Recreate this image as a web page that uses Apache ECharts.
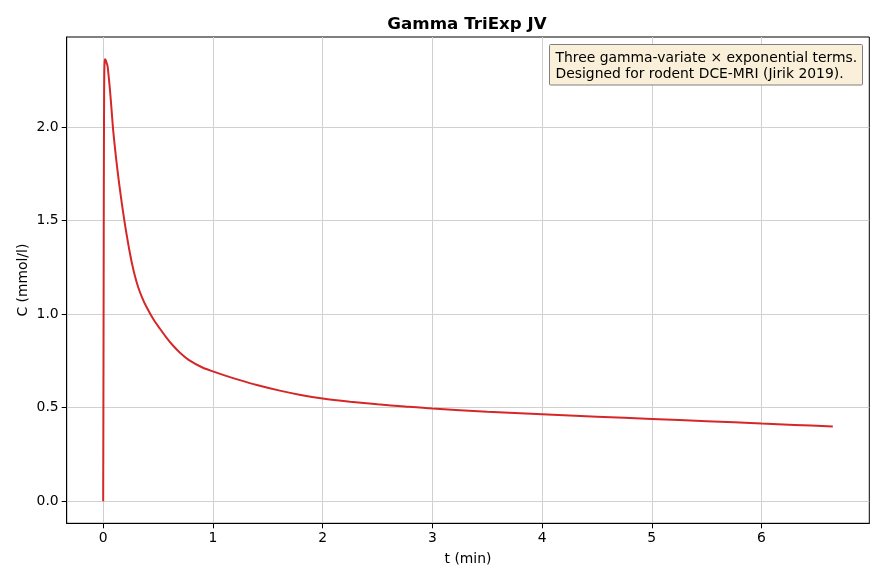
<!DOCTYPE html>
<html><head><meta charset="utf-8">
<script src="https://cdn.jsdelivr.net/npm/echarts@6/dist/echarts.min.js"></script>
<style>html,body{margin:0;padding:0;background:#fff}#c{width:884px;height:581px}</style>
</head><body><div id="c"></div>
<script>
const tValues = [0, 0.002, 0.004, 0.006, 0.008, 0.010, 0.013, 0.017, 0.022, 0.03, 0.04, 0.05, 0.06, 0.07, 0.08, 0.09, 0.1, 0.11, 0.12, 0.13, 0.14, 0.155, 0.17, 0.19, 0.205, 0.22, 0.24, 0.26, 0.29, 0.32, 0.355, 0.395, 0.455, 0.516, 0.58, 0.638, 0.7, 0.79, 0.9, 1.0, 1.12, 1.245, 1.4, 1.61, 1.8, 2.0, 2.25, 2.5, 2.75, 3.0, 3.5, 4.0, 4.5, 5.0, 5.5, 6.0, 6.3, 6.65];
const cValues = [0, 0.5, 1.1, 1.7, 2.1, 2.28, 2.345, 2.362, 2.358, 2.345, 2.325, 2.27, 2.21, 2.14, 2.065, 1.99, 1.93, 1.874, 1.821, 1.771, 1.723, 1.656, 1.592, 1.512, 1.456, 1.403, 1.337, 1.277, 1.202, 1.142, 1.088, 1.038, 0.975, 0.923, 0.872, 0.831, 0.794, 0.751, 0.716, 0.694, 0.67, 0.647, 0.621, 0.591, 0.568, 0.549, 0.532, 0.518, 0.506, 0.495, 0.478, 0.465, 0.452, 0.44, 0.428, 0.415, 0.408, 0.399];
const xTicks = [0, 1, 2, 3, 4, 5, 6];
const yTicks = [0, 0.5, 1.0, 1.5, 2.0];
const titleText = 'Gamma TriExp JV';
const xName = 't (min)';
const yName = 'C (mmol/l)';
const noteLines = ['Three gamma-variate \u00d7 exponential terms.', 'Designed for rodent DCE-MRI (Jirik 2019).'];

const FONT = 'DejaVu Sans';
const chart = echarts.init(document.getElementById('c'));
const grid = {left: 66.7, right: 14.7, top: 37, bottom: 57.7};
const splitStyle = {show: true, lineStyle: {color: '#d0d0d0', width: 1}};
chart.setOption({
  animation: false,
  backgroundColor: '#fff',
  title: {text: titleText, left: 462, top: 11, textAlign: 'center',
    textStyle: {fontFamily: FONT, fontWeight: 'bold', fontSize: 16.7, color: '#000'}},
  grid: Object.assign({show: true, borderColor: '#000', borderWidth: 1, backgroundColor: 'transparent'}, grid),
  xAxis: {type: 'value', min: -0.3325, max: 6.9825,
    name: xName, nameLocation: 'middle', nameGap: 29, nameMoveOverlap: false,
    nameTextStyle: {fontFamily: FONT, fontSize: 13.9, color: '#000'},
    axisLine: {show: true, onZero: false, lineStyle: {color: '#000', width: 1}},
    axisTick: {show: true, length: 5, customValues: xTicks, lineStyle: {color: '#000'}},
    axisLabel: {customValues: xTicks, fontFamily: FONT, fontSize: 13.9, color: '#000', margin: 8,
      formatter: v => String(Math.round(v))},
    splitLine: splitStyle},
  yAxis: {type: 'value', min: -0.118, max: 2.481,
    name: yName, nameLocation: 'middle', nameGap: 36, nameMoveOverlap: false,
    nameTextStyle: {fontFamily: FONT, fontSize: 13.9, color: '#000'},
    axisLine: {show: true, onZero: false, lineStyle: {color: '#000', width: 1}},
    axisTick: {show: true, length: 5, customValues: yTicks, lineStyle: {color: '#000'}},
    axisLabel: {customValues: yTicks, fontFamily: FONT, fontSize: 13.9, color: '#000', margin: 8,
      formatter: v => v.toFixed(1)},
    splitLine: splitStyle},
  series: [{type: 'line', showSymbol: false, symbol: 'none', smooth: 0.3,
    data: tValues.map((t, i) => [t, cValues[i]]),
    lineStyle: {color: '#d62728', width: 2}, z: 5}],
  graphic: [
    {type: 'rect', shape: {x: 549.5, y: 44.5, width: 313, height: 40.5, r: 1},
      style: {fill: '#faefd9', stroke: '#808080', lineWidth: 1}, z: 100},
    {type: 'text', x: 555.5, y: 50, z: 101,
      style: {text: noteLines.join('\n'), font: '13.9px "DejaVu Sans"', fill: '#000',
        lineHeight: 16.5, verticalAlign: 'top', align: 'left'}}
  ]
});
</script></body></html>
